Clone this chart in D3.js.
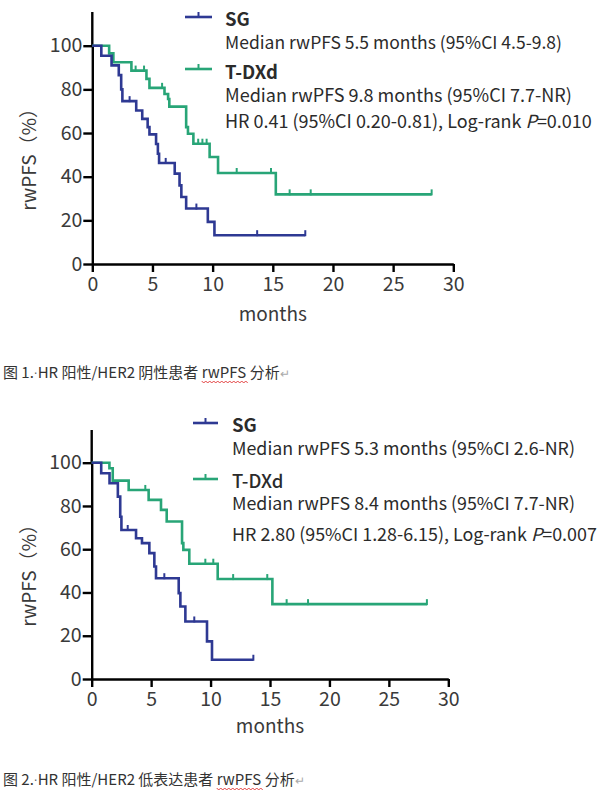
<!DOCTYPE html>
<html><head><meta charset="utf-8">
<script src="https://cdn.jsdelivr.net/npm/d3@7"></script>
<style>
html,body{margin:0;padding:0;background:#fff;}
svg{display:block;}
text{font-family:"Noto Sans CJK SC","Noto Sans",sans-serif;}
</style></head>
<body>
<svg id="chart" width="600" height="793"></svg>
<script>
// ---------- DATA ----------
const xTicks = [0, 5, 10, 15, 20, 25, 30];
const yTicks = [0, 20, 40, 60, 80, 100];
const seriesNames = ["SG", "T-DXd"];

// Figure 1: HR+/HER2-negative
const sg1Months = [0, 0.75, 1.6, 2.2, 2.4, 2.5, 3.65, 4.15, 4.6, 4.75, 5.3, 5.45, 5.55, 6.85, 7.25, 7.4, 7.8, 9.6, 10.15];
const sg1Surv   = [100, 95.4, 91, 86.5, 80, 74.6, 70.3, 66.5, 62.7, 59.4, 55, 50.5, 46.3, 41.4, 36, 30.7, 25.4, 19.3, 13.2];
const sg1End = 17.7;
const sg1Censor = [3.1, 6.1, 8.65, 13.7];

const td1Months = [0, 1.4, 1.75, 3.25, 4.5, 4.75, 6.0, 6.3, 6.4, 7.8, 7.95, 8.4, 9.75, 10.45, 15.25];
const td1Surv   = [100, 96.5, 92.4, 88.6, 84.8, 80.7, 77.9, 75.6, 72.1, 62.7, 59.7, 55.1, 49, 41.7, 31.9];
const td1End = 28.2;
const td1Censor = [3.6, 4.3, 5.8, 8.8, 9.15, 9.5, 12.0, 14.85, 16.4, 18.15];

const legend1 = [
  "Median rwPFS 5.5 months (95%CI 4.5-9.8)",
  "Median rwPFS 9.8 months (95%CI 7.7-NR)",
  "HR 0.41 (95%CI 0.20-0.81), Log-rank ", "=0.010"
];

// Figure 2: HR+/HER2-low
const sg2Months = [0, 0.8, 1.5, 2.2, 2.4, 2.5, 3.73, 4.23, 4.85, 5.27, 5.41, 7.32, 7.46, 7.88, 9.7, 10.12];
const sg2Surv   = [100, 95.1, 90.5, 84.3, 75, 68.9, 65.1, 62.8, 58.2, 52, 46.6, 39.7, 33.5, 26.6, 17.4, 8.9];
const sg2End = 13.6;
const sg2Censor = [3.03, 6.11, 8.63];

const td2Months = [0, 1.49, 1.77, 3.11, 4.79, 5.83, 6.31, 7.6, 7.71, 8.21, 10.6, 15.2];
const td2Surv   = [100, 97.4, 91.7, 87.4, 82.8, 78.2, 72.8, 62.8, 59.7, 53.3, 46.2, 34.6];
const td2End = 28.2;
const td2Censor = [4.51, 9.56, 10.23, 11.9, 14.77, 16.4, 18.2];

const legend2 = [
  "Median rwPFS 5.3 months (95%CI 2.6-NR)",
  "Median rwPFS 8.4 months (95%CI 7.7-NR)",
  "HR 2.80 (95%CI 1.28-6.15), Log-rank ", "=0.007"
];

const caption1 = ["图 1.", "·", "HR 阳性/HER2 阴性患者 ", "rwPFS", " 分析", "↵"];
const caption2 = ["图 2.", "·", "HR 阳性/HER2 低表达患者 ", "rwPFS", " 分析", "↵"];

// ---------- STYLE ----------
const BLUE = "#2e3993";
const GREEN = "#28a577";
const TXT = "#2b2b2b";

const svg = d3.select("#chart");

function drawChart(cfg) {
  const g = svg.append("g");
  const x = d3.scaleLinear().domain([0, 30]).range([cfg.x0, cfg.x30]);
  const y = d3.scaleLinear().domain([0, 100]).range([cfg.y0, cfg.y100]);

  const xa = g.append("g").attr("transform", `translate(0,${cfg.y0})`)
    .call(d3.axisBottom(x).tickValues(xTicks).tickSize(8).tickSizeOuter(0).tickPadding(5));
  const ya = g.append("g").attr("transform", `translate(${cfg.x0},0)`)
    .call(d3.axisLeft(y).tickValues(yTicks).tickSize(9).tickSizeOuter(0).tickPadding(1));
  g.append("line").attr("x1", cfg.x0).attr("x2", cfg.x0)
    .attr("y1", y(100)).attr("y2", cfg.yAxisTop)
    .attr("stroke", "#000").attr("stroke-width", 2.4);
  [xa, ya].forEach(a => {
    a.select(".domain").attr("stroke", "#000").attr("stroke-width", 2.4);
    a.selectAll(".tick line").attr("stroke", "#000").attr("stroke-width", 2.4);
    a.selectAll(".tick text").attr("fill", "#3a3a3a").style("font-size", "19.5px")
      .style("font-family", '"Noto Sans CJK SC","Noto Sans",sans-serif');
  });

  g.append("text").attr("x", (cfg.x0 + cfg.x30) / 2).attr("y", cfg.monthsY)
    .attr("text-anchor", "middle").attr("fill", "#3a3a3a").style("font-size", "19px")
    .text("months");
  g.append("text")
    .attr("transform", `translate(${cfg.yLabelX},${(cfg.y0 + cfg.y100) / 2}) rotate(-90)`)
    .attr("text-anchor", "middle").attr("fill", "#3a3a3a").style("font-size", "19px")
    .text("rwPFS（%）");

  const line = d3.line().x(d => x(d[0])).y(d => y(d[1])).curve(d3.curveStepAfter);
  function level(months, surv, t) {
    let v = surv[0];
    for (let i = 0; i < months.length; i++) if (months[i] <= t) v = surv[i];
    return v;
  }
  function series(months, surv, end, censor, color) {
    const pts = months.map((m, i) => [m, surv[i]]);
    pts.push([end, surv[surv.length - 1]]);
    g.append("path").datum(pts).attr("d", line).attr("fill", "none")
      .attr("stroke", color).attr("stroke-width", 2.6);
    const cs = censor.concat([end]);
    g.selectAll(null).data(cs).enter().append("line")
      .attr("x1", d => x(d)).attr("x2", d => x(d))
      .attr("y1", d => y(level(months, surv, d)) + 1)
      .attr("y2", d => y(level(months, surv, d)) - 5)
      .attr("stroke", color).attr("stroke-width", 2);
  }
  series(cfg.td.m, cfg.td.s, cfg.td.e, cfg.td.c, GREEN);
  series(cfg.sg.m, cfg.sg.s, cfg.sg.e, cfg.sg.c, BLUE);

  const L = cfg.legend;
  function sym(yy, color) {
    g.append("line").attr("x1", L.lx1).attr("x2", L.lx2).attr("y1", yy).attr("y2", yy)
      .attr("stroke", color).attr("stroke-width", 2.6);
    const mx = (L.lx1 + L.lx2) / 2;
    g.append("line").attr("x1", mx).attr("x2", mx).attr("y1", yy).attr("y2", yy - 5)
      .attr("stroke", color).attr("stroke-width", 2);
  }
  sym(L.blueY, BLUE);
  sym(L.greenY, GREEN);
  const baseFs = 18.5;
  // fit each legend line to the width it has in the reference by font size
  function fit(t, len) {
    const w = t.node().getComputedTextLength();
    t.style("font-size", (baseFs * len / w).toFixed(2) + "px");
  }
  function txt(yy, s, w, len) {
    const t = g.append("text").attr("x", L.tx).attr("y", yy).attr("fill", TXT).style("font-size", baseFs + "px");
    if (w) t.style("font-weight", w);
    t.text(s);
    if (len) fit(t, len);
    return t;
  }
  txt(L.b[0], seriesNames[0], L.w[0]);
  txt(L.b[1], cfg.texts[0], null, L.len[0]);
  txt(L.b[2], seriesNames[1], L.w[1]);
  txt(L.b[3], cfg.texts[1], null, L.len[1]);
  const hr = g.append("text").attr("x", L.tx).attr("y", L.b[4]).attr("fill", TXT).style("font-size", baseFs + "px");
  hr.append("tspan").text(cfg.texts[2]);
  hr.append("tspan").style("font-style", "italic").text("P");
  hr.append("tspan").text(cfg.texts[3]);
  fit(hr, L.len[2]);
}

function drawCaption(parts, yy) {
  const t = svg.append("text").attr("x", 3).attr("y", yy).attr("fill", "#333").style("font-size", "15px");
  t.append("tspan").text(parts[0]);
  t.append("tspan").attr("fill", "#666").style("font-family", "DejaVu Sans").style("font-size", "12px").text(parts[1]);
  t.append("tspan").text(parts[2]);
  t.append("tspan").text(parts[3]);
  t.append("tspan").text(parts[4]);
  t.append("tspan").attr("fill", "#aaa").style("font-size", "12px").text(parts[5]);
  const node = t.node();
  const pre = (parts[0] + parts[1] + parts[2]).length;
  const sx = node.getStartPositionOfChar(pre).x;
  const ex = node.getEndPositionOfChar(pre + parts[3].length - 1).x;
  let d = `M${sx},${yy + 3}`;
  for (let xx = sx, k = 0; xx < ex; xx += 2, k++) d += `L${xx + 2},${yy + (k % 2 ? 3 : 5)}`;
  svg.append("path").attr("d", d).attr("fill", "none").attr("stroke", "#e03030").attr("stroke-width", 0.9);
}

drawChart({
  x0: 92.3, x30: 453.3, y0: 264, y100: 45.7, yAxisTop: 12, monthsY: 321, yLabelX: 36,
  sg: {m: sg1Months, s: sg1Surv, e: sg1End, c: sg1Censor},
  td: {m: td1Months, s: td1Surv, e: td1End, c: td1Censor},
  texts: legend1,
  legend: {lx1: 185, lx2: 212, blueY: 17, greenY: 69, tx: 225, b: [26, 49, 79, 102, 128],
           w: [600, 600], len: [337, 347, 367]}
});
drawChart({
  x0: 91.7, x30: 448.3, y0: 679, y100: 462.7, yAxisTop: 430, monthsY: 733, yLabelX: 36,
  sg: {m: sg2Months, s: sg2Surv, e: sg2End, c: sg2Censor},
  td: {m: td2Months, s: td2Surv, e: td2End, c: td2Censor},
  texts: legend2,
  legend: {lx1: 193, lx2: 218, blueY: 423, greenY: 479, tx: 232, b: [432, 455, 488, 510, 541],
           w: [600, 500], len: [343, 343, 365]}
});
drawCaption(caption1, 378);
drawCaption(caption2, 785);
</script>
</body></html>
